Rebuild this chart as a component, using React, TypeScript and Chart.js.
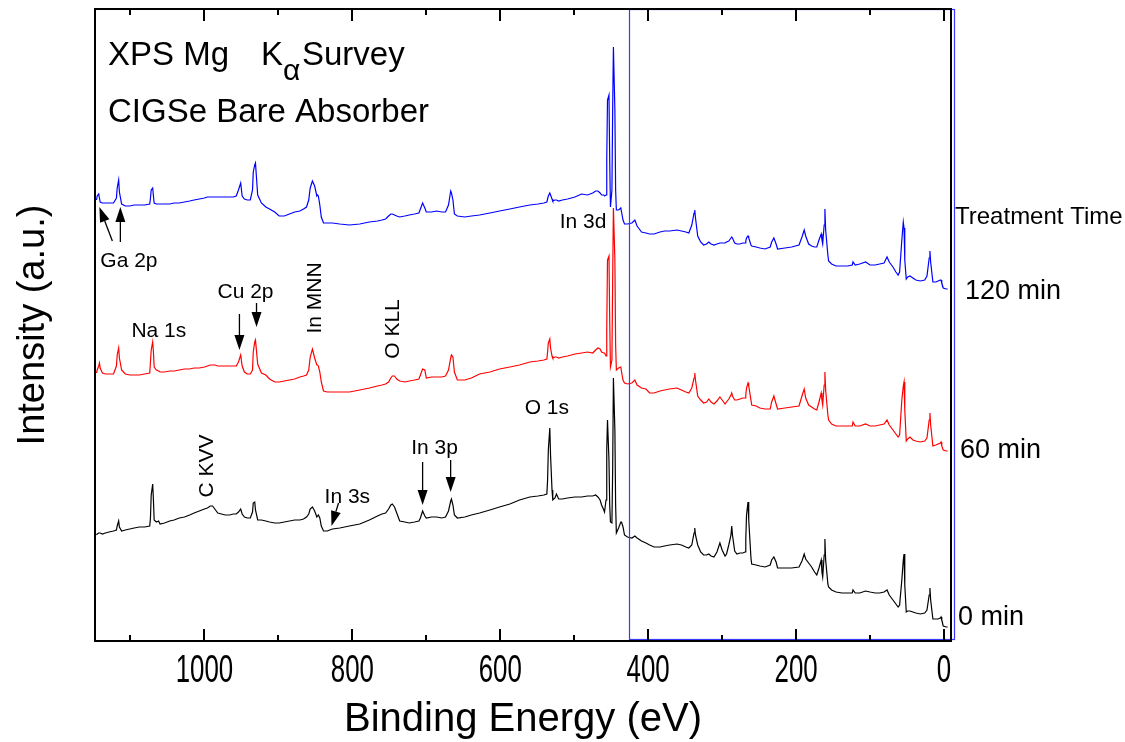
import React, { useEffect, useRef } from "react";
import { Chart, registerables } from "chart.js";

Chart.register(...registerables);

// ---- Data: common binding-energy grid (eV) and three offset spectra (a.u.) ----
const bindingEnergy = [
  1146,1145,1143,1142,1141,1138,1134,1129,1123,1119,
  1118,1116,1115,1112,1107,1101,1095,1088,1081,1074,
  1073,1072,1070,1069,1068,1065,1062,1060,1054,1047,
  1041,1034,1027,1020,1014,1007,1000,996,992,989,
  986,982,977,972,966,961,957,954,951,949,
  946,942,938,935,934,932,931,928,923,917,
  912,905,899,892,885,878,871,866,862,859,
  857,854,851,848,847,846,844,842,839,834,
  827,817,804,790,777,766,760,755,751,748,
  746,743,740,736,729,723,716,710,708,705,
  702,700,693,686,679,674,670,667,666,664,
  662,658,648,639,628,614,601,587,574,560,
  549,541,537,536,535,533,532,530,529,526,
  524,521,516,509,499,490,482,475,471,468,
  465,463,460,459,457,456,455,453,452,451,
  449,448,447,445,444,443,440,437,436,434,
  432,428,422,418,415,411,409,403,398,392,
  384,378,371,361,355,349,345,341,338,337,
  336,333,329,325,321,318,315,311,307,303,
  300,296,294,291,288,287,286,283,280,276,
  272,269,268,267,265,264,261,260,254,249,
  242,235,233,230,227,225,215,206,196,192,
  189,187,183,179,175,172,169,166,165,164,
  162,161,160,157,156,152,146,138,130,124,
  123,120,114,106,100,93,87,81,77,74,
  69,65,62,60,57,55,54,53,51,49,
  46,42,38,32,26,23,20,19,18,15,
  11,8,5,4,3,1,-3,-5,
];

const intensity0min = [
  106,107,108,108,108,107,108,109,110,111,
  115,120,114,110,111,112,113,114,114,115,
  123,146,157,141,121,119,120,117,118,120,
  121,123,124,126,128,130,132,133,135,135,
  132,128,127,126,126,127,127,129,132,127,
  124,123,123,129,138,139,131,121,121,120,
  119,118,118,119,120,121,121,122,124,127,
  132,134,130,124,125,126,123,115,110,110,
  112,113,115,117,121,125,127,128,132,136,
  137,134,128,120,119,118,119,120,123,130,
  125,123,124,124,123,124,130,140,142,136,
  126,123,124,126,128,131,134,137,141,144,
  145,146,147,161,191,213,186,151,141,143,
  147,142,142,143,144,144,145,145,146,144,
  141,136,131,129,141,191,221,181,136,119,
  118,171,263,211,136,108,113,119,119,114,
  106,104,103,105,103,101,100,98,96,94,
  94,95,96,97,96,94,93,96,108,113,
  106,96,89,86,86,87,85,84,89,98,
  91,85,87,96,106,115,106,90,87,88,
  88,89,101,126,139,121,83,77,76,75,
  74,76,81,84,79,73,73,73,74,80,
  87,82,78,74,69,66,73,81,69,64,
  86,102,81,57,54,51,49,48,48,48,
  51,48,48,50,49,48,48,49,51,46,
  41,37,34,36,61,81,87,56,29,30,
  30,29,28,27,28,31,46,53,41,22,
  22,22,23,24,21,15,14,14,
];

const intensity60min = [
  268,271,275,278,273,268,267,267,267,275,
  286,293,283,271,267,266,266,266,267,268,
  279,291,299,289,274,271,270,269,269,270,
  270,271,272,272,273,273,274,275,276,276,
  276,275,275,275,275,275,275,279,286,275,
  269,267,267,271,289,299,301,277,268,266,
  262,259,259,260,261,262,264,265,266,271,
  284,292,283,276,276,275,269,259,250,249,
  249,249,249,251,253,255,256,257,259,263,
  265,265,262,260,259,260,261,262,266,272,
  271,263,264,264,264,265,271,283,286,284,
  269,261,261,263,267,269,272,274,276,279,
  280,281,282,289,298,302,293,285,283,284,
  284,283,284,285,287,288,289,288,291,293,
  292,289,288,288,285,311,381,385,321,274,
  281,361,433,381,296,271,273,274,269,261,
  258,257,258,261,256,254,253,252,248,248,
  250,251,252,253,251,249,248,253,263,268,
  261,245,241,238,239,242,239,237,240,244,
  241,237,239,242,246,248,245,241,241,242,
  243,243,246,253,258,255,241,236,235,233,
  232,232,239,245,237,232,233,234,235,245,
  252,243,236,234,232,231,239,248,241,236,
  256,269,251,226,221,217,215,215,215,215,
  219,215,215,217,215,215,216,217,221,216,
  211,207,204,206,241,255,259,231,200,202,
  204,201,200,199,200,203,221,228,216,195,
  196,197,198,199,195,191,190,190,
];

const intensity120min = [
  441,445,447,443,439,438,438,438,438,443,
  453,461,449,437,435,435,436,436,436,437,
  443,451,453,445,438,437,437,437,437,437,
  438,438,439,440,441,442,443,444,444,444,
  444,444,444,444,444,444,445,451,458,445,
  442,441,441,451,469,476,478,446,438,434,
  432,429,425,425,427,429,430,432,434,441,
  453,460,455,445,446,445,436,424,418,418,
  418,417,416,417,419,420,421,422,425,427,
  427,426,425,424,425,426,427,428,432,438,
  433,429,429,430,429,429,436,450,448,441,
  427,425,424,425,426,428,430,432,434,436,
  437,438,439,442,445,448,446,442,440,441,
  441,440,441,442,444,447,446,448,450,450,
  448,446,446,445,446,481,541,546,481,434,
  451,531,594,531,451,431,431,433,429,421,
  417,417,418,421,415,411,409,408,407,407,
  409,410,410,411,410,409,408,416,428,431,
  423,405,399,396,397,399,397,396,397,398,
  398,398,399,400,403,404,403,398,397,397,
  398,398,400,403,405,403,396,395,394,393,
  392,394,399,403,397,392,393,394,396,404,
  411,405,397,395,394,394,401,407,401,397,
  416,432,411,386,380,377,375,375,375,376,
  379,376,377,379,376,376,377,378,384,379,
  374,369,366,369,401,419,413,381,362,364,
  365,363,361,360,361,365,383,390,379,359,
  359,360,361,361,358,353,352,352,
];

const seriesColors = ["#000000", "#ff0000", "#0000ff"];
const seriesNames = ["0 min", "60 min", "120 min"];

const majorTickValues = [0, 200, 400, 600, 800, 1000];
const minorTickValues = [100, 300, 500, 700, 900, 1100];
const tickLabels = ["0", "200", "400", "600", "800", "1000"];

// in-plot annotations (eV, intensity)
const peakLabels = [
  { text: "Ga 2p", x: 1140.8, y: 374, rot: false },
  { text: "Na 1s", x: 1098.8, y: 304, rot: false },
  { text: "Cu 2p", x: 982.4, y: 343, rot: false },
  { text: "In 3s", x: 837.6, y: 138, rot: false },
  { text: "In 3p", x: 720.5, y: 187, rot: false },
  { text: "O 1s", x: 567.0, y: 227, rot: false },
  { text: "In 3d", x: 519.6, y: 413, rot: false },
  { text: "In MNN", x: 849.8, y: 343, rot: true },
  { text: "O KLL", x: 744.3, y: 312, rot: true },
  { text: "C KVV", x: 996.0, y: 175, rot: true },
];
const arrows = [
  { x1: 1124.5, y1: 400, x2: 1142.1, y2: 434 },
  { x1: 1113.7, y1: 399, x2: 1113.7, y2: 434 },
  { x1: 952.7, y1: 327, x2: 952.7, y2: 291 },
  { x1: 929.6, y1: 338, x2: 929.6, y2: 314 },
  { x1: 818.7, y1: 138, x2: 828.2, y2: 115 },
  { x1: 705.0, y1: 179, x2: 705.0, y2: 136 },
  { x1: 667.1, y1: 181, x2: 667.1, y2: 149 },
];
const highlightBox = { fromEV: 426.3, toEV: -13.5 };

const FONT = '"Liberation Sans", Arial, Helvetica, sans-serif';

const decorPlugin = {
  id: "xpsDecor",
  afterDatasetsDraw(chart: any) {
    const { ctx, chartArea: a, scales } = chart;
    const xs = scales.x;
    const ys = scales.y;
    ctx.save();

    // blue highlight rectangle
    const bx1 = Math.round(xs.getPixelForValue(highlightBox.fromEV));
    const bx2 = Math.round(xs.getPixelForValue(highlightBox.toEV));
    ctx.strokeStyle = "#3a3aff";
    ctx.lineWidth = 1.2;
    ctx.strokeRect(bx1 + 0.5, a.top + 0.5, bx2 - bx1, a.bottom - a.top - 2);

    // frame
    ctx.strokeStyle = "#000";
    ctx.lineWidth = 2;
    ctx.strokeRect(a.left, a.top, a.right - a.left, a.bottom - a.top);

    // ticks (inward, top and bottom)
    const drawTick = (v: number, len: number) => {
      const px = Math.round(xs.getPixelForValue(v));
      ctx.beginPath();
      ctx.moveTo(px, a.bottom);
      ctx.lineTo(px, a.bottom - len);
      ctx.moveTo(px, a.top);
      ctx.lineTo(px, a.top + len);
      ctx.stroke();
    };
    majorTickValues.forEach((v) => drawTick(v, 12));
    minorTickValues.forEach((v) => drawTick(v, 6));

    // tick labels (condensed)
    ctx.fillStyle = "#000";
    ctx.font = `38px ${FONT}`;
    ctx.textAlign = "center";
    ctx.textBaseline = "alphabetic";
    majorTickValues.forEach((v, i) => {
      const px = xs.getPixelForValue(v);
      ctx.save();
      ctx.translate(px, a.bottom + 41);
      ctx.scale(0.68, 1);
      ctx.fillText(tickLabels[i], 0, 0);
      ctx.restore();
    });

    // axis titles
    ctx.font = `40px ${FONT}`;
    ctx.fillText("Binding Energy (eV)", (a.left + a.right) / 2, 731);
    ctx.font = `38px ${FONT}`;
    ctx.save();
    ctx.translate(44, (a.top + a.bottom) / 2);
    ctx.rotate(-Math.PI / 2);
    ctx.fillText("Intensity (a.u.)", 0, 0);
    ctx.restore();

    // title block
    ctx.textAlign = "left";
    ctx.font = `33px ${FONT}`;
    ctx.fillText("XPS Mg", 108, 65);
    ctx.fillText("K", 261, 65);
    ctx.font = `30px ${FONT}`;
    ctx.fillText("\u03b1", 283, 80);
    ctx.font = `33px ${FONT}`;
    ctx.fillText("Survey", 302, 65);
    ctx.fillText("CIGSe Bare Absorber", 108, 122);

    // right labels
    ctx.font = `24px ${FONT}`;
    ctx.fillText("Treatment Time", 955, 224);
    ctx.font = `27px ${FONT}`;
    ctx.fillText(seriesNames[2], 965, 299);
    ctx.fillText(seriesNames[1], 960, 458);
    ctx.fillText(seriesNames[0], 958, 625);

    // peak labels
    ctx.font = `21px ${FONT}`;
    peakLabels.forEach((l) => {
      const px = xs.getPixelForValue(l.x);
      const py = ys.getPixelForValue(l.y);
      if (l.rot) {
        ctx.save();
        ctx.translate(px, py);
        ctx.rotate(-Math.PI / 2);
        ctx.textAlign = "center";
        ctx.textBaseline = "middle";
        ctx.fillText(l.text, 0, 0);
        ctx.restore();
      } else {
        ctx.textAlign = "left";
        ctx.textBaseline = "alphabetic";
        ctx.fillText(l.text, px, py);
      }
    });

    // arrows
    ctx.lineWidth = 1.3;
    arrows.forEach((ar) => {
      const x1 = xs.getPixelForValue(ar.x1);
      const y1 = ys.getPixelForValue(ar.y1);
      const x2 = xs.getPixelForValue(ar.x2);
      const y2 = ys.getPixelForValue(ar.y2);
      const ang = Math.atan2(y2 - y1, x2 - x1);
      const hl = 15;
      const hw = 5;
      const bxp = x2 - hl * Math.cos(ang);
      const byp = y2 - hl * Math.sin(ang);
      ctx.beginPath();
      ctx.moveTo(x1, y1);
      ctx.lineTo(bxp, byp);
      ctx.stroke();
      ctx.beginPath();
      ctx.moveTo(x2, y2);
      ctx.lineTo(bxp + hw * Math.sin(ang), byp - hw * Math.cos(ang));
      ctx.lineTo(bxp - hw * Math.sin(ang), byp + hw * Math.cos(ang));
      ctx.closePath();
      ctx.fill();
    });

    ctx.restore();
  },
};

export default function App() {
  const canvasRef = useRef<HTMLCanvasElement | null>(null);

  useEffect(() => {
    document.body.style.margin = "0";
    const canvas = canvasRef.current;
    if (!canvas) return;
    const toPoints = (ys: number[]) => bindingEnergy.map((x, i) => ({ x, y: ys[i] }));
    const chart = new Chart(canvas, {
      type: "line",
      data: {
        datasets: [
          { label: seriesNames[0], data: toPoints(intensity0min), borderColor: seriesColors[0] },
          { label: seriesNames[1], data: toPoints(intensity60min), borderColor: seriesColors[1] },
          { label: seriesNames[2], data: toPoints(intensity120min), borderColor: seriesColors[2] },
        ].map((d) => ({ ...d, borderWidth: 1.2, pointRadius: 0, tension: 0, fill: false })),
      },
      options: {
        animation: false,
        responsive: false,
        devicePixelRatio: 1,
        layout: { padding: { left: 95, right: 174, top: 9, bottom: 101 } },
        plugins: { legend: { display: false }, tooltip: { enabled: false } },
        events: [],
        scales: {
          x: { type: "linear", reverse: true, min: -9.5, max: 1148, display: false },
          y: { type: "linear", min: 0, max: 632, display: false },
        },
      },
      plugins: [decorPlugin],
    });
    return () => chart.destroy();
  }, []);

  return (
    <div style={{ width: 1125, height: 742, background: "#fff" }}>
      <canvas ref={canvasRef} width={1125} height={742} style={{ display: "block" }} />
    </div>
  );
}
